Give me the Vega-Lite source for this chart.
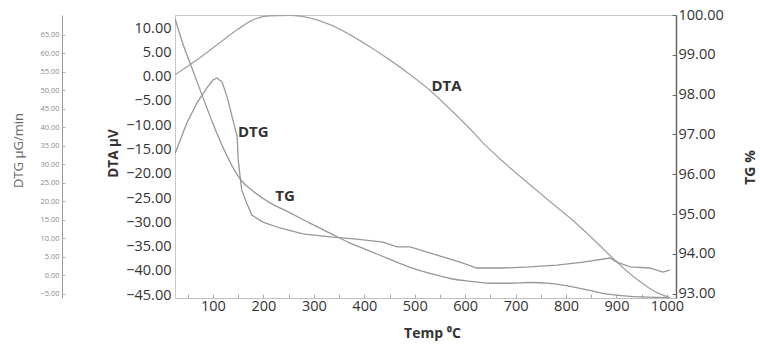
{
  "$schema": "https://vega.github.io/schema/vega-lite/v6.json",
  "width": 501,
  "height": 283,
  "autosize": {"type": "none"},
  "padding": {"left": 175, "top": 15, "right": 84, "bottom": 46},
  "background": "white",
  "config": {
    "view": {"stroke": "#c8c8c8", "strokeWidth": 1},
    "font": "Open Sans",
    "axis": {"grid": false, "labelFont": "Open Sans", "titleFont": "Open Sans", "labelOverlap": false}
  },
  "datasets": {
    "dta": [
      {"t": 25, "v": 0.4}, {"t": 60, "v": 2.85}, {"t": 108, "v": 6.56}, {"t": 148, "v": 9.65},
      {"t": 179, "v": 11.7}, {"t": 213, "v": 12.55}, {"t": 253, "v": 12.65}, {"t": 292, "v": 12.1},
      {"t": 332, "v": 10.7}, {"t": 372, "v": 8.6}, {"t": 411, "v": 6.15}, {"t": 451, "v": 3.4},
      {"t": 491, "v": 0.4}, {"t": 530, "v": -2.8}, {"t": 570, "v": -6.7}, {"t": 610, "v": -10.8},
      {"t": 635, "v": -13.6}, {"t": 675, "v": -17.5}, {"t": 715, "v": -21.1}, {"t": 754, "v": -24.5},
      {"t": 782, "v": -26.9}, {"t": 822, "v": -30.4}, {"t": 861, "v": -34.2}, {"t": 901, "v": -38.2},
      {"t": 941, "v": -41.8}, {"t": 980, "v": -44.5}, {"t": 1006, "v": -45.5}
    ],
    "tg": [
      {"t": 25, "v": 99.9}, {"t": 40, "v": 99.29}, {"t": 60, "v": 98.61}, {"t": 80, "v": 97.93},
      {"t": 100, "v": 97.27}, {"t": 120, "v": 96.67}, {"t": 140, "v": 96.16}, {"t": 157, "v": 95.83},
      {"t": 179, "v": 95.58}, {"t": 213, "v": 95.28}, {"t": 253, "v": 95.03}, {"t": 292, "v": 94.77},
      {"t": 332, "v": 94.52}, {"t": 372, "v": 94.27}, {"t": 411, "v": 94.07}, {"t": 451, "v": 93.86},
      {"t": 491, "v": 93.66}, {"t": 530, "v": 93.51}, {"t": 570, "v": 93.38}, {"t": 610, "v": 93.31},
      {"t": 649, "v": 93.26}, {"t": 689, "v": 93.26}, {"t": 728, "v": 93.28}, {"t": 768, "v": 93.26},
      {"t": 808, "v": 93.18}, {"t": 847, "v": 93.08}, {"t": 887, "v": 92.98}, {"t": 927, "v": 92.93},
      {"t": 966, "v": 92.91}, {"t": 1006, "v": 92.9}
    ],
    "dtg": [
      {"t": 25, "v": 33.0}, {"t": 48, "v": 41.1}, {"t": 68, "v": 46.5}, {"t": 88, "v": 50.6},
      {"t": 100, "v": 52.75}, {"t": 108, "v": 53.3}, {"t": 118, "v": 52.2}, {"t": 128, "v": 48.2},
      {"t": 138, "v": 42.8}, {"t": 148, "v": 37.4}, {"t": 150, "v": 31.2}, {"t": 157, "v": 23.0},
      {"t": 167, "v": 19.5}, {"t": 177, "v": 16.3}, {"t": 199, "v": 14.4}, {"t": 233, "v": 12.8},
      {"t": 278, "v": 11.2}, {"t": 332, "v": 10.4}, {"t": 385, "v": 9.8}, {"t": 437, "v": 9.0},
      {"t": 465, "v": 7.7}, {"t": 491, "v": 7.7}, {"t": 544, "v": 5.5}, {"t": 590, "v": 3.6},
      {"t": 623, "v": 2.0}, {"t": 675, "v": 2.0}, {"t": 728, "v": 2.3}, {"t": 782, "v": 2.8},
      {"t": 834, "v": 3.6}, {"t": 887, "v": 4.7}, {"t": 901, "v": 3.6}, {"t": 927, "v": 2.3},
      {"t": 966, "v": 2.0}, {"t": 992, "v": 0.9}, {"t": 1006, "v": 1.45}
    ],
    "labels": [
      {"t": 563, "v": -1.9, "label": "DTA"},
      {"t": 180, "v": -11.4, "label": "DTG"},
      {"t": 243, "v": -24.5, "label": "TG"}
    ]
  },
  "resolve": {"scale": {"y": "independent"}},
  "encoding": {
    "x": {
      "field": "t", "type": "quantitative",
      "scale": {"domain": [24.7, 1018], "nice": false, "zero": false},
      "axis": {
        "title": "Temp ⁰C",
        "values": [50, 100, 150, 200, 250, 300, 350, 400, 450, 500, 550, 600, 650, 700, 750, 800, 850, 900, 950, 1000],
        "format": "d",
        "labelExpr": "datum.value % 100 == 0 ? datum.label : ''",
        "labelOverlap": false,
        "tickSize": -4, "tickColor": "#aaaaaa", "domainColor": "#c0c0c0",
        "labelFontSize": 14.5, "labelColor": "#333333", "labelPadding": 5, "labelFlush": false,
        "titleFontSize": 14, "titleFontWeight": "bold", "titleColor": "#333333",
        "titleX": 257, "titleY": 35, "titleBaseline": "middle"
      }
    }
  },
  "layer": [
    {
      "encoding": {
        "y": {
          "field": "v", "type": "quantitative",
          "scale": {"domain": [-45.6, 12.7], "nice": false, "zero": false},
          "axis": {
            "orient": "left", "title": "DTA µV",
            "values": [-45, -40, -35, -30, -25, -20, -15, -10, -5, 0, 5, 10],
            "labelOverlap": false,
            "format": ".2f", "ticks": false, "domainColor": "#c8c8c8",
            "labelFontSize": 14.5, "labelColor": "#333333", "labelPadding": 4, "labelFlush": false,
            "titleFontSize": 13.5, "titleFontWeight": "bold", "titleColor": "#333333",
            "titleX": -62, "titleY": 138, "titleAngle": -90, "titleBaseline": "middle", "titleAlign": "center"
          }
        }
      },
      "layer": [
        {
          "data": {"name": "dta"},
          "mark": {"type": "line", "color": "#a3a3a3", "strokeWidth": 1.3, "interpolate": "monotone", "clip": true}
        },
        {
          "data": {"name": "labels"},
          "mark": {"type": "text", "font": "Open Sans", "fontWeight": "bold", "fontSize": 15, "color": "#333333"},
          "encoding": {
            "text": {"field": "label"}
          }
        }
      ]
    },
    {
      "data": {"name": "tg"},
      "mark": {"type": "line", "color": "#979797", "strokeWidth": 1.3, "interpolate": "monotone", "clip": true},
      "encoding": {
        "y": {
          "field": "v", "type": "quantitative",
          "scale": {"domain": [92.89, 100], "nice": false, "zero": false},
          "axis": {
            "orient": "right", "title": "TG %",
            "values": [93, 94, 95, 96, 97, 98, 99, 100],
            "labelOverlap": false,
            "format": ".2f", "tickSize": -4, "tickColor": "#666666",
            "domainColor": "#666666", "domainWidth": 1.5,
            "labelFontSize": 14.5, "labelColor": "#333333", "labelPadding": 6, "labelFlush": false,
            "titleFontSize": 14, "titleFontWeight": "bold", "titleColor": "#333333",
            "titleX": 74, "titleY": 152, "titleAngle": -90, "titleBaseline": "middle", "titleAlign": "center"
          }
        }
      }
    },
    {
      "data": {"name": "dtg"},
      "mark": {"type": "line", "color": "#979797", "strokeWidth": 1.3, "clip": true},
      "encoding": {
        "y": {
          "field": "v", "type": "quantitative",
          "scale": {"domain": [-6.1, 70.3], "nice": false, "zero": false},
          "axis": {
            "orient": "left", "offset": 113, "title": "DTG µG/min",
            "values": [-5, 0, 5, 10, 15, 20, 25, 30, 35, 40, 45, 50, 55, 60, 65],
            "labelOverlap": false,
            "format": ".2f", "tickSize": -3, "tickColor": "#d9a0a0", "domainColor": "#9a9a9a",
            "labelFontSize": 7.5, "labelColor": "#8a8a8a", "labelPadding": 6, "labelFlush": false,
            "titleFontSize": 13, "titleFontWeight": "normal", "titleColor": "#666666",
            "titleX": -44, "titleY": 135, "titleAngle": -90, "titleBaseline": "middle", "titleAlign": "center"
          }
        }
      }
    }
  ]
}
